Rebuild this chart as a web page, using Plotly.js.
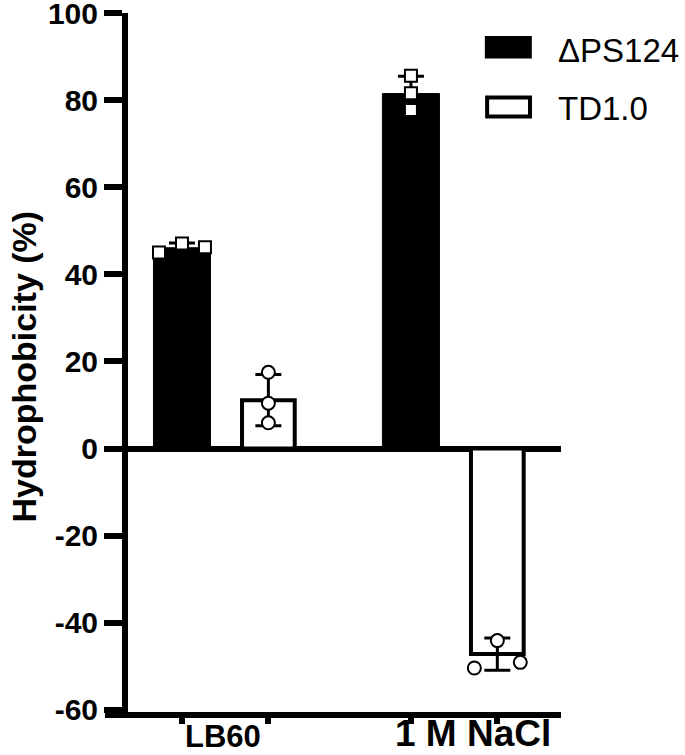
<!DOCTYPE html>
<html><head><meta charset="utf-8">
<script src="https://cdn.plot.ly/plotly-3.0.1.min.js"></script>
<style>body{margin:0;background:#fff}#chart{width:685px;height:755px}</style>
</head><body><div id="chart"></div>
<script>
// ---- data ----
const categories = ['LB60', '1 M NaCl'];
const seriesNames = ['\u0394PS124', 'TD1.0'];
const ps124Mean = [46.1, 81.5];
const ps124SD = [1.1, 4.0];
const td10Mean = [11.1, -47.2];
const td10SD = [5.9, 3.7];
const ps124Points = [[45.0, 47.1, 46.2], [85.6, 81.6, 77.7]];
const td10Points = [[17.5, 10.4, 5.9], [-44.1, -50.4, -49.1]];
// horizontal scatter offsets of replicate points (style: -1 left, 0 centre, 1 right)
const ps124Jitter = [[-1, 0, 1], [0, 0, 0]];
const td10Jitter = [[0, 0, 0], [0, -1, 1]];
const yTicks = [-60, -40, -20, 0, 20, 40, 60, 80, 100];
const yTickText = ['-60', '-40', '-20', '0', '20', '40', '60', '80', '100'];

// ---- layout helpers ----
const groupStep = 2.65, jitterStep = 0.266;
const barX = (g, s) => g * groupStep + s;
const FONT = 'Liberation Sans, Arial, Helvetica, sans-serif';
const labelSizes = [31, 37];
const labelShift = [-0.03, 0.22];

function pointsTrace(points, jitter, s, symbol, size, name) {
  const x = [], y = [];
  points.forEach((arr, g) => arr.forEach((v, i) => {
    x.push(barX(g, s) + jitter[g][i] * jitterStep);
    y.push(v);
  }));
  return {type: 'scatter', mode: 'markers', x, y, name, showlegend: false,
    marker: {symbol, size, color: 'white', line: {color: 'black', width: 2}},
    hoverinfo: 'y'};
}

const errStyle = {type: 'data', visible: true, color: 'black', thickness: 3, width: 13};

const traces = [
  {type: 'bar', name: seriesNames[0], x: categories.map((c, g) => barX(g, 0)), y: ps124Mean,
   width: 0.66, marker: {color: 'black', line: {color: 'black', width: 1}},
   error_y: Object.assign({array: ps124SD}, errStyle), showlegend: false},
  {type: 'bar', name: seriesNames[1], x: categories.map((c, g) => barX(g, 1)), y: td10Mean,
   width: 0.61, marker: {color: 'white', line: {color: 'black', width: 4}},
   error_y: Object.assign({array: td10SD}, errStyle), showlegend: false},
  pointsTrace(ps124Points, ps124Jitter, 0, 'square', 12, seriesNames[0]),
  pointsTrace(td10Points, td10Jitter, 1, 'circle', 13, seriesNames[1])
];

const tickPositions = [];
categories.forEach((c, g) => { tickPositions.push(barX(g, 0), barX(g, 1)); });

const annotations = categories.map((c, g) => ({
  text: c, x: barX(g, 0) + 0.5 + labelShift[g], xref: 'x', y: -0.0612, yref: 'paper',
  xanchor: 'center', yanchor: 'bottom', showarrow: false, borderpad: 0,
  font: {family: FONT, size: labelSizes[g], weight: 'bold', color: 'black'}
}));
annotations.push({
  text: 'Hydrophobicity (%)', textangle: -90, x: -0.178, xref: 'paper', y: 0.494, yref: 'paper',
  xanchor: 'center', yanchor: 'middle', showarrow: false,
  font: {family: FONT, size: 34, weight: 'bold', color: 'black'}
});
// manual legend
annotations.push({text: seriesNames[0], x: 0.988, xref: 'paper', y: 0.947, yref: 'paper',
  xanchor: 'left', yanchor: 'middle', showarrow: false, font: {family: FONT, size: 33, color: 'black'}});
annotations.push({text: seriesNames[1], x: 0.988, xref: 'paper', y: 0.864, yref: 'paper',
  xanchor: 'left', yanchor: 'middle', showarrow: false, font: {family: FONT, size: 33, color: 'black'}});

const shapes = [
  {type: 'rect', xref: 'paper', yref: 'paper', x0: 0.833, x1: 0.936, y0: 0.935, y1: 0.967,
   fillcolor: 'black', line: {width: 0}},
  {type: 'rect', xref: 'paper', yref: 'paper', x0: 0.838, x1: 0.932, y0: 0.852, y1: 0.879,
   fillcolor: 'white', line: {color: 'black', width: 4}}
];

const layout = {
  width: 685, height: 755,
  margin: {l: 105, r: 124, t: 13, b: 43, pad: 0},
  paper_bgcolor: 'white', plot_bgcolor: 'white',
  barmode: 'overlay',
  font: {family: FONT, color: 'black'},
  showlegend: false,
  xaxis: {range: [-0.891, 4.387], showline: true, linewidth: 6, linecolor: 'black',
    tickvals: tickPositions, showticklabels: false, ticks: 'outside', ticklen: 6, tickwidth: 6,
    tickcolor: 'black', showgrid: false, zeroline: false, fixedrange: true},
  yaxis: {range: [-60.5, 100], anchor: 'free', position: 20 / 456, showline: true, linewidth: 6,
    linecolor: 'black', tickvals: yTicks, ticktext: yTickText, ticks: 'outside', ticklen: 18, tickwidth: 6,
    tickcolor: 'black', tickfont: {family: FONT, size: 30, weight: 'bold', color: 'black'},
    ticklabeloverflow: 'allow',
    showgrid: false, zeroline: true, zerolinewidth: 6, zerolinecolor: 'black', fixedrange: true},
  annotations, shapes
};

Plotly.newPlot('chart', traces, layout, {displayModeBar: false, staticPlot: true});
</script></body></html>
